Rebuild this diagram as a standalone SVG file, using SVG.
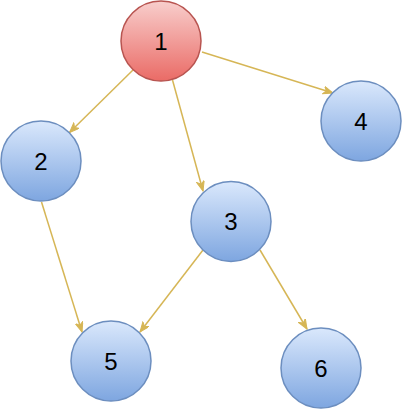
<svg xmlns="http://www.w3.org/2000/svg" width="402" height="409" viewBox="0 0 402 409">
<defs>
<linearGradient id="gRed" x1="0" y1="0" x2="0" y2="1"><stop offset="0" stop-color="#f8cecc"/><stop offset="1" stop-color="#ea6b66"/></linearGradient>
<linearGradient id="gBlue" x1="0" y1="0" x2="0" y2="1"><stop offset="0" stop-color="#dae8fc"/><stop offset="1" stop-color="#7ea6e0"/></linearGradient>
<marker id="arr" markerUnits="userSpaceOnUse" markerWidth="12" markerHeight="10" refX="10" refY="4" orient="auto">
<path d="M0,0 L10,4 L0,8 L3,4 Z" fill="#d6b656" stroke="#d6b656" stroke-width="1"/>
</marker>
<style>
.red{fill:url(#gRed);stroke:#b85450;stroke-width:1.5}
.blue{fill:url(#gBlue);stroke:#6c8ebf;stroke-width:1.5}
.lbl{font-family:"Liberation Sans",Arial,sans-serif;font-size:24px;fill:#000;text-anchor:middle}
.edge{stroke:#d6b656;stroke-width:1.5;fill:none;marker-end:url(#arr)}
</style>
</defs>
<g id="connectors">
<line class="edge" x1="133" y1="70" x2="69.5" y2="132.5"/>
<line class="edge" x1="202" y1="52" x2="333" y2="93"/>
<line class="edge" x1="172.5" y1="80" x2="203" y2="191"/>
<line class="edge" x1="41.5" y1="202" x2="82" y2="332"/>
<line class="edge" x1="203" y1="250" x2="140" y2="332"/>
<line class="edge" x1="260" y1="250" x2="307" y2="329"/>
</g>
<g id="node1"><circle class="red" cx="161" cy="41" r="40"/><text class="lbl" x="161" y="49.5">1</text></g>
<g id="node2"><circle class="blue" cx="41" cy="161" r="40"/><text class="lbl" x="41" y="169.5">2</text></g>
<g id="node3"><circle class="blue" cx="231" cy="221.5" r="40"/><text class="lbl" x="231" y="230">3</text></g>
<g id="node4"><circle class="blue" cx="361" cy="121" r="40"/><text class="lbl" x="361" y="129.5">4</text></g>
<g id="node5"><circle class="blue" cx="111" cy="361" r="40"/><text class="lbl" x="111" y="369.5">5</text></g>
<g id="node6"><circle class="blue" cx="321" cy="368" r="40"/><text class="lbl" x="321" y="376.5">6</text></g>
</svg>
